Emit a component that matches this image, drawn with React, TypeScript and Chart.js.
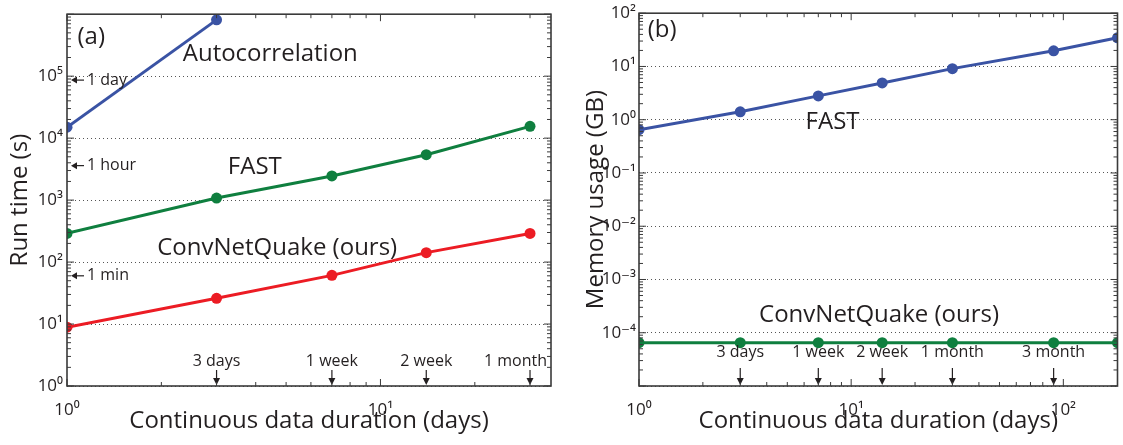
import React, { useEffect, useRef } from "react";
import { Chart, registerables } from "chart.js";

Chart.register(...registerables);

const FONT = "'Open Sans', 'DejaVu Sans', sans-serif";
const INK = "#231F20";
const BLUE = "#3A53A4";
const GREEN = "#0F7F3F";
const RED = "#EC1C24";

// ---------- Panel (a): run time ----------
const daysA = [1, 3, 7, 14, 30];
const autocorrelationDays = [1, 3];
const autocorrelationRunTime = [1.5e4, 8.1e5];
const fastRunTime = [290, 1080, 2450, 5400, 15500];
const convNetQuakeRunTime = [8.9, 26, 61, 142, 290];
const runTimeTicks = [1, 10, 100, 1000, 1e4, 1e5, 1e6];
const runTimeTickLabels = ["10⁰", "10¹", "10²", "10³", "10⁴", "10⁵", ""];
const durationTicksA = [1, 10];
const durationTickLabelsA = ["10⁰", "10¹"];
const timeMarkLabels = ["1 day", "1 hour", "1 min"];
const timeMarkSeconds = [86400, 3600, 60];
const durationMarkLabelsA = ["3 days", "1 week", "2 week", "1 month"];
const durationMarkDaysA = [3, 7, 14, 30];

// ---------- Panel (b): memory ----------
const daysB = [1, 3, 7, 14, 30, 90, 180];
const fastMemory = [0.65, 1.41, 2.8, 4.9, 9.1, 19.7, 34.5];
const convNetQuakeMemory = [6.5e-5, 6.5e-5, 6.5e-5, 6.5e-5, 6.5e-5, 6.5e-5, 6.5e-5];
const memoryTicks = [1e-5, 1e-4, 1e-3, 1e-2, 0.1, 1, 10, 100];
const memoryTickLabels = ["", "10⁻⁴", "10⁻³", "10⁻²", "10⁻¹", "10⁰", "10¹", "10²"];
const durationTicksB = [1, 10, 100];
const durationTickLabelsB = ["10⁰", "10¹", "10²"];
const durationMarkLabelsB = ["3 days", "1 week", "2 week", "1 month", "3 month"];
const durationMarkDaysB = [3, 7, 14, 30, 90];

const pts = (xs: number[], ys: number[]) => xs.map((x, i) => ({ x, y: ys[i] }));

function arrowHead(ctx: CanvasRenderingContext2D, x: number, y: number, dir: "left" | "down") {
  ctx.beginPath();
  if (dir === "left") {
    ctx.moveTo(x, y);
    ctx.lineTo(x + 6, y - 3.5);
    ctx.lineTo(x + 6, y + 3.5);
  } else {
    ctx.moveTo(x, y);
    ctx.lineTo(x - 3.5, y - 7);
    ctx.lineTo(x + 3.5, y - 7);
  }
  ctx.closePath();
  ctx.fill();
}

const framePlugin = {
  id: "frame",
  afterDraw(chart: any) {
    const { ctx, chartArea: a } = chart;
    const xs = chart.scales.x;
    const ys = chart.scales.y;
    const each = (scale: any, cb: (p: number, major: boolean) => void) => {
      const lo = Math.floor(Math.log10(scale.min));
      const hi = Math.ceil(Math.log10(scale.max));
      for (let e = lo; e <= hi; e++) {
        for (let k = 1; k <= 9; k++) {
          const v = k * Math.pow(10, e);
          if (v < scale.min * 0.999 || v > scale.max * 1.001) continue;
          cb(scale.getPixelForValue(v), k === 1);
        }
      }
    };
    ctx.save();
    ctx.strokeStyle = "#3a3a3a";
    ctx.lineWidth = 1;
    ctx.beginPath();
    each(ys, (y, major) => {
      const l = major ? 7 : 4;
      ctx.moveTo(a.left, y);
      ctx.lineTo(a.left + l, y);
      ctx.moveTo(a.right, y);
      ctx.lineTo(a.right - l, y);
    });
    each(xs, (x, major) => {
      const l = major ? 7 : 4;
      ctx.moveTo(x, a.bottom);
      ctx.lineTo(x, a.bottom - l);
      ctx.moveTo(x, a.top);
      ctx.lineTo(x, a.top + l);
    });
    ctx.stroke();
    ctx.lineWidth = 1.6;
    ctx.strokeRect(a.left, a.top, a.right - a.left, a.bottom - a.top);
    ctx.restore();
  },
};

const annotationPlugin = {
  id: "notes",
  afterDatasetsDraw(chart: any, _args: any, opts: any) {
    const { ctx, chartArea: a } = chart;
    const xs = chart.scales.x;
    const ys = chart.scales.y;
    ctx.save();
    ctx.fillStyle = INK;
    ctx.strokeStyle = INK;
    ctx.textBaseline = "middle";
    for (const t of opts.texts || []) {
      ctx.font = `${t.size}px ${FONT}`;
      ctx.textAlign = "left";
      ctx.fillText(t.text, xs.getPixelForValue(t.x), ys.getPixelForValue(t.y));
    }
    const tm = opts.timeMarks;
    if (tm) {
      ctx.font = `16px ${FONT}`;
      ctx.lineWidth = 1.2;
      tm.labels.forEach((lab: string, i: number) => {
        const y = ys.getPixelForValue(tm.values[i]);
        ctx.beginPath();
        ctx.moveTo(a.left + 8, y);
        ctx.lineTo(a.left + 17, y);
        ctx.stroke();
        arrowHead(ctx, a.left + 4, y, "left");
        ctx.textAlign = "left";
        ctx.fillText(lab, a.left + 20, y);
      });
    }
    const dm = opts.durationMarks;
    if (dm) {
      ctx.font = `16px ${FONT}`;
      ctx.lineWidth = 1.2;
      dm.labels.forEach((lab: string, i: number) => {
        const x = xs.getPixelForValue(dm.values[i]);
        ctx.beginPath();
        ctx.moveTo(x, a.bottom - dm.arrowLen);
        ctx.lineTo(x, a.bottom - 6);
        ctx.stroke();
        arrowHead(ctx, x, a.bottom - 1, "down");
        ctx.textAlign = "center";
        const w = ctx.measureText(lab).width;
        const cx = Math.min(x, a.right - 4 - w / 2);
        ctx.fillText(lab, cx, a.bottom - dm.labelGap);
      });
    }
    ctx.restore();
  },
};

function logAxis(min: number, max: number, ticks: number[], labels: string[], extra: any) {
  return {
    type: "logarithmic",
    min,
    max,
    afterBuildTicks: (s: any) => {
      s.ticks = ticks.map((v) => ({ value: v }));
    },
    ticks: {
      autoSkip: false,
      maxRotation: 0,
      color: INK,
      font: { family: FONT, size: 17 },
      callback: (v: any) => {
        const i = ticks.findIndex((t) => Math.abs(t - v) / t < 1e-6);
        return i >= 0 ? labels[i] : "";
      },
    },
    ...extra,
  };
}

function Panel({ cfg, style }: { cfg: any; style: any }) {
  const ref = useRef<HTMLCanvasElement>(null);
  useEffect(() => {
    const chart = new Chart(ref.current as HTMLCanvasElement, cfg);
    return () => chart.destroy();
  }, []);
  return (
    <div style={{ position: "absolute", top: 0, ...style }}>
      <canvas ref={ref} />
    </div>
  );
}

const lineDs = (data: any[], color: string) => ({
  data,
  borderColor: color,
  backgroundColor: color,
  borderWidth: 3,
  pointRadius: 5.5,
  pointHoverRadius: 5.5,
  pointBorderWidth: 0,
  tension: 0,
});

const titleFont = { family: FONT, size: 24 };

const cfgA: any = {
  type: "line",
  data: {
    datasets: [
      lineDs(pts(autocorrelationDays, autocorrelationRunTime), BLUE),
      lineDs(pts(daysA, fastRunTime), GREEN),
      lineDs(pts(daysA, convNetQuakeRunTime), RED),
    ],
  },
  options: {
    animation: false,
    responsive: true,
    maintainAspectRatio: false,
    layout: { padding: { left: 0, top: 13, right: 9, bottom: 0 } },
    plugins: {
      legend: { display: false },
      tooltip: { enabled: false },
      notes: {
        texts: [
          { text: "(a)", x: 1.08, y: 4.3e5, size: 24 },
          { text: "Autocorrelation", x: 2.34, y: 2.3e5, size: 24 },
          { text: "FAST", x: 3.26, y: 3400, size: 24 },
          { text: "ConvNetQuake (ours)", x: 1.94, y: 170, size: 24 },
        ],
        timeMarks: { labels: timeMarkLabels, values: timeMarkSeconds },
        durationMarks: { labels: durationMarkLabelsA, values: durationMarkDaysA, labelGap: 25, arrowLen: 16 },
      },
    },
    scales: {
      x: logAxis(1, 35, durationTicksA, durationTickLabelsA, {
        grid: { display: false },
        border: { display: false },
        title: { display: true, text: "Continuous data duration (days)", color: INK, font: titleFont, padding: { top: 0, bottom: 9 } },
        afterFit: (s: any) => {
          s.height = 59;
        },
      }),
      y: logAxis(1, 1e6, runTimeTicks, runTimeTickLabels, {
        grid: { color: "#555", lineWidth: 1, drawTicks: false },
        border: { display: false, dash: [1, 3] },
        title: { display: true, text: "Run time (s)", color: INK, font: titleFont, padding: { top: 6, bottom: 0 } },
        afterFit: (s: any) => {
          s.width = 67;
        },
      }),
    },
  },
  plugins: [annotationPlugin, framePlugin],
};
cfgA.options.scales.y.ticks.padding = 4;
cfgA.options.scales.x.ticks.padding = 6;

const cfgB: any = {
  type: "line",
  data: {
    datasets: [lineDs(pts(daysB, fastMemory), BLUE), lineDs(pts(daysB, convNetQuakeMemory), GREEN)],
  },
  options: {
    animation: false,
    responsive: true,
    maintainAspectRatio: false,
    layout: { padding: { left: 22, top: 13, right: 3, bottom: 0 } },
    plugins: {
      legend: { display: false },
      tooltip: { enabled: false },
      notes: {
        texts: [
          { text: "(b)", x: 1.1, y: 48, size: 24 },
          { text: "FAST", x: 6.1, y: 0.9, size: 24 },
          { text: "ConvNetQuake (ours)", x: 3.68, y: 2.1e-4, size: 24 },
        ],
        durationMarks: { labels: durationMarkLabelsB, values: durationMarkDaysB, labelGap: 34, arrowLen: 18 },
      },
    },
    scales: {
      x: logAxis(1, 180, durationTicksB, durationTickLabelsB, {
        grid: { display: false },
        border: { display: false },
        title: { display: true, text: "Continuous data duration (days)", color: INK, font: titleFont, padding: { top: 0, bottom: 9 } },
        afterFit: (s: any) => {
          s.height = 59;
        },
      }),
      y: logAxis(1e-5, 100, memoryTicks, memoryTickLabels, {
        grid: { color: "#555", lineWidth: 1, drawTicks: false },
        border: { display: false, dash: [1, 3] },
        title: { display: true, text: "Memory usage (GB)", color: INK, font: titleFont, padding: { top: 0, bottom: 0 } },
        afterFit: (s: any) => {
          s.width = 57;
        },
      }),
    },
  },
  plugins: [annotationPlugin, framePlugin],
};
cfgB.options.scales.y.ticks.padding = 3;
cfgB.options.scales.x.ticks.padding = 6;

export default function App() {
  return (
    <div style={{ position: "fixed", left: 0, top: 0, width: 1123, height: 445, background: "#fff" }}>
      <Panel cfg={cfgA} style={{ left: 0, width: 560, height: 445 }} />
      <Panel cfg={cfgB} style={{ left: 560, width: 563, height: 445 }} />
    </div>
  );
}
